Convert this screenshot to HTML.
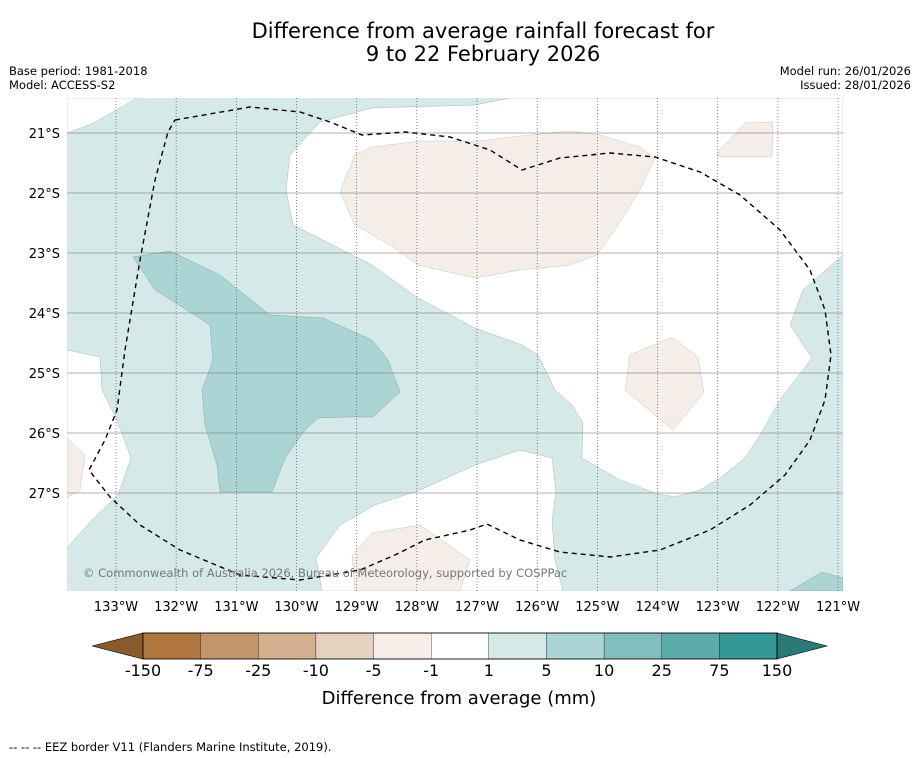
<!DOCTYPE html>
<html><head><meta charset="utf-8"><style>
body{margin:0;background:#fff;font-family:"DejaVu Sans","Liberation Sans",sans-serif;}
#wrap{position:relative;width:919px;height:758px;overflow:hidden;background:#fff}
</style></head><body>
<div id="wrap">
<svg id="svg" width="919" height="758" xmlns="http://www.w3.org/2000/svg" font-family="DejaVu Sans, Liberation Sans, sans-serif">
<text x="483" y="38" font-size="21" text-anchor="middle">Difference from average rainfall forecast for</text>
<text x="483" y="61" font-size="21" text-anchor="middle">9 to 22 February 2026</text>
<text x="9" y="75" font-size="11.5">Base period: 1981-2018</text>
<text x="9" y="89" font-size="11.5">Model: ACCESS-S2</text>
<text x="911" y="75" font-size="11.5" text-anchor="end">Model run: 26/01/2026</text>
<text x="911" y="89" font-size="11.5" text-anchor="end">Issued: 28/01/2026</text>
<defs><clipPath id="mc"><rect x="67" y="98" width="776" height="493"/></clipPath></defs>
<g clip-path="url(#mc)">
<rect x="67" y="98" width="776" height="493" fill="#d5e9e8"/>
<polygon fill="#fff" stroke="#9aa" stroke-width="0.4" points="67,98 137,98 92,124 67,133"/>
<polygon fill="#fff" stroke="#9aa" stroke-width="0.4" points="510,98 843,98 843,255 803,290 790,325 812,358 780,400 760,435 745,458 720,478 700,490 675,497 655,493 620,480 582,458 583,423 572,405 555,390 538,355 522,345 475,328 418,298 372,265 293,225 286,190 290,155 320,122 372,108 475,105"/>
<polygon fill="#fff" stroke="#9aa" stroke-width="0.4" points="322,591 316,558 340,525 375,505 420,490 475,465 520,450 552,458 556,492 552,520 555,560 563,591"/>
<polygon fill="#fff" stroke="#9aa" stroke-width="0.4" points="67,350 100,357 102,390 117,420 131,458 118,495 90,522 67,548"/>
<polygon fill="#f4ede8" stroke="#bba" stroke-width="0.4" points="372,147 420,141 480,141 520,136 570,131 600,135 640,147 655,158 640,190 618,225 597,255 570,265 520,270 475,278 418,265 390,245 355,225 340,192 355,155"/>
<polygon fill="#f4ede8" stroke="#bba" stroke-width="0.4" points="718,152 745,123 773,122 772,157 718,157"/>
<polygon fill="#f4ede8" stroke="#bba" stroke-width="0.4" points="630,355 672,337 698,357 704,392 673,430 625,390"/>
<polygon fill="#f4ede8" stroke="#bba" stroke-width="0.4" points="355,591 352,555 372,533 420,525 470,560 460,591"/>
<polygon fill="#f4ede8" stroke="#bba" stroke-width="0.4" points="67,438 85,455 80,490 67,498"/>
<polygon fill="#aad5d4" stroke="#799" stroke-width="0.4" points="133,257 170,251 220,275 245,295 270,315 323,318 372,340 388,360 400,392 373,417 345,417 318,418 305,430 285,458 272,492 220,492 217,465 205,425 202,390 213,360 210,325 190,312 155,290"/>
<polygon fill="#aad5d4" stroke="#799" stroke-width="0.4" points="790,591 822,572 843,578 843,591"/>
<g id="grid"></g>
<polyline fill="none" stroke="#000" stroke-width="1.4" stroke-dasharray="5,4" points="175,120 250,107 300,112 330,122 362,135 405,132 450,137 490,150 522,170 560,158 610,153 655,157 700,172 740,195 780,230 810,270 825,310 831,355 825,400 810,440 785,475 750,505 710,530 660,550 610,557 560,552 520,540 487,524 470,530 425,540 395,555 360,570 300,580 240,575 180,550 140,525 110,497 89,470 105,440 117,410 125,350 140,260 155,180 168,132 175,120"/>
<text x="83" y="577" font-size="11.5" fill="#777">© Commonwealth of Australia 2026, Bureau of Meteorology, supported by COSPPac</text>
</g>
<g id="axes"></g>
<g id="cbar"></g>
<text x="459" y="704" font-size="18" text-anchor="middle">Difference from average (mm)</text>
<text x="9" y="751" font-size="11.5">--  --  -- EEZ border V11 (Flanders Marine Institute, 2019).</text>
</svg>
</div>
<script>
const lonTicks=[-133,-132,-131,-130,-129,-128,-127,-126,-125,-124,-123,-122,-121];
const latTicks=[-21,-22,-23,-24,-25,-26,-27];
const cbarLabels=["-150","-75","-25","-10","-5","-1","1","5","10","25","75","150"];
const cbarColors=["#b07840","#c3956a","#d4b08f","#e5d1bf","#f4ede8","#ffffff","#d5e9e8","#aad5d4","#80bfbe","#5aabaa","#349896"];
const NS="http://www.w3.org/2000/svg";
const xLon=l=>116+(l+133)*60.17;
const yLat=l=>133+(-21-l)*60;
function mk(t,a,p){const e=document.createElementNS(NS,t);for(const k in a)e.setAttribute(k,a[k]);p.appendChild(e);return e;}
const grid=document.getElementById('grid'),axes=document.getElementById('axes'),cb=document.getElementById('cbar');
lonTicks.forEach(l=>{
 const x=xLon(l);
 const g=mk('line',{x1:x,x2:x,y1:98,y2:591,stroke:'#555','stroke-width':0.7,'stroke-dasharray':'1,2'},grid);
 
 
 const t=mk('text',{x:x,y:611,'font-size':13,'text-anchor':'middle'},axes);
 t.textContent=Math.abs(l)+'°W';
 
 
});
latTicks.forEach(l=>{
 const y=yLat(l);
 const g=mk('line',{x1:67,x2:843,y1:y,y2:y,stroke:'#666','stroke-width':0.5},grid);
 
 
 const t=mk('text',{x:60,y:y+5,'font-size':13,'text-anchor':'end'},axes);
 t.textContent=Math.abs(l)+'°S';
 
 
});
const c0=143,c1=777,n=cbarColors.length,w=(c1-c0)/n,cy=633,ch=26;
const lt=mk('polygon',{points:`92,${cy+ch/2} ${c0},${cy} ${c0},${cy+ch}`,fill:'#8a5a2a',stroke:'#000','stroke-width':0.6},cb);


cbarColors.forEach((c,i)=>{
 const r=mk('rect',{x:c0+i*w,y:cy,width:w,height:ch,fill:c,stroke:'#000','stroke-width':0.3},cb);
 
 
});
const rt=mk('polygon',{points:`827,${cy+ch/2} ${c1},${cy} ${c1},${cy+ch}`,fill:'#2a7a78',stroke:'#000','stroke-width':0.6},cb);


mk('rect',{x:c0,y:cy,width:c1-c0,height:ch,fill:'none',stroke:'#000','stroke-width':0.8},cb);
cbarLabels.forEach((s,i)=>{
 const t=mk('text',{x:c0+i*w,y:676,'font-size':16,'text-anchor':'middle'},cb);
 t.textContent=s;
 
 
});
</script>
</body></html>
